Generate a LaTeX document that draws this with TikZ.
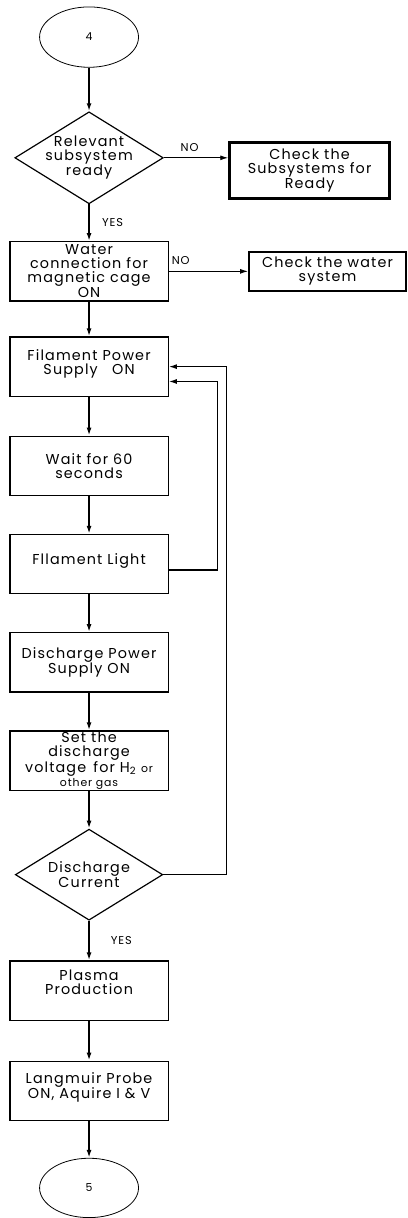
\documentclass[tikz,border=0pt]{standalone}
\usepackage{fontspec}
\setmainfont{Poppins}[LetterSpace=8]
\usepackage{tikz}
\usetikzlibrary{positioning, arrows.meta, shapes.geometric}

\begin{document}
\begin{tikzpicture}[
    >={Latex[length=8pt,width=5pt]},
    node distance=38pt,
    every node/.style={font=\fontsize{14.5}{14}\selectfont},
    proc/.style={draw, line width=1.3pt, minimum width=160pt,
                 minimum height=60pt, align=center, inner sep=1pt},
    decision/.style={draw, diamond, line width=1.2pt, aspect=1.6,
                     minimum width=150pt, minimum height=93pt,
                     align=center, inner sep=-4pt},
    term/.style={draw, ellipse, line width=0.8pt, minimum width=100pt,
                 minimum height=61pt, font=\fontsize{11}{12}\selectfont},
    chkbox/.style={draw, align=center, inner sep=1pt},
    arr/.style={->, line width=1.6pt},
    thinarr/.style={->, line width=1pt},
    lbl/.style={font=\fontsize{11.5}{12}\selectfont},
  ]
  % Main chain
  \node[term] (start) {4};
  \node[decision, below=44pt of start] (ready) {Relevant\\subsystem\\ready};
  \node[proc, below=37pt of ready] (water) {Water\\connection for\\magnetic cage\\ON};
  \node[proc, below=35pt of water] (filon) {Filament Power\\Supply\quad ON\\[-5pt]~};
  \node[proc, below=39pt of filon] (wait) {Wait for 60\\seconds};
  \node[proc, below=38pt of wait] (light) {Fllament Light\\[-4pt]~};
  \node[proc, below=38pt of light] (dison) {Discharge Power\\Supply ON};
  \node[proc, below=38pt of dison] (setv) {Set the\\discharge\\voltage\enspace for H\textsubscript{2} {\fontsize{11}{12}\selectfont or}\\{\fontsize{11}{12}\selectfont other gas}};
  \node[decision, below=38pt of setv, minimum width=149pt, minimum height=92pt] (current) {Discharge\\Current};
  \node[proc, below=40pt of current] (plasma) {Plasma\\Production\\[4pt]~};
  \node[proc, below=40pt of plasma] (probe) {Langmuir Probe\\ON, Aquire I \& V\\[-3pt]~};
  \node[term, below=37pt of probe, minimum height=60pt] (stop) {5};

  % Side checks
  \node[chkbox, line width=2.6pt, minimum width=162pt, minimum height=57pt,
        below right=-17pt and 65pt of ready.east] (chksub) {Check the\\Subsystems for\\Ready};
  \node[chkbox, line width=1.8pt, minimum width=159pt, minimum height=39pt,
        right=80pt of water] (chkwater) {Check the water\\system};

  \useasboundingbox ([shift={(-90pt,37.5pt)}]start.center) rectangle ++(410pt,-1218pt);

  \draw[arr] (start) -- (ready);
  \draw[arr] (ready) -- node[lbl, right=9pt] {YES} (water);
  \draw[thinarr] (ready.east) -- node[lbl, above=2pt, pos=0.4] {NO} (ready.east -| chksub.west);
  \draw[thinarr] (water) -- node[lbl, above=3pt, pos=0.15] {NO} (chkwater);
  \draw[arr] (water) -- (filon);
  \draw[arr] (filon) -- (wait);
  \draw[arr] (wait) -- (light);
  \draw[arr] (light) -- (dison);
  \draw[arr] (dison) -- (setv);
  \draw[arr] (setv) -- (current);
  \draw[arr] (current) -- node[lbl, right=18pt] {YES} (plasma);
  \draw[arr] (plasma) -- (probe);
  \draw[arr] (probe) -- (stop);

  % Feedback loops
  \draw[thinarr, line width=1.3pt] ([yshift=-6pt]light.east) -- ++(49pt,0) |- ([yshift=-15pt]filon.east);
  \draw[thinarr, line width=1.3pt] (current.east) -- ++(64pt,0) |- (filon.east);

\end{tikzpicture}
\end{document}
